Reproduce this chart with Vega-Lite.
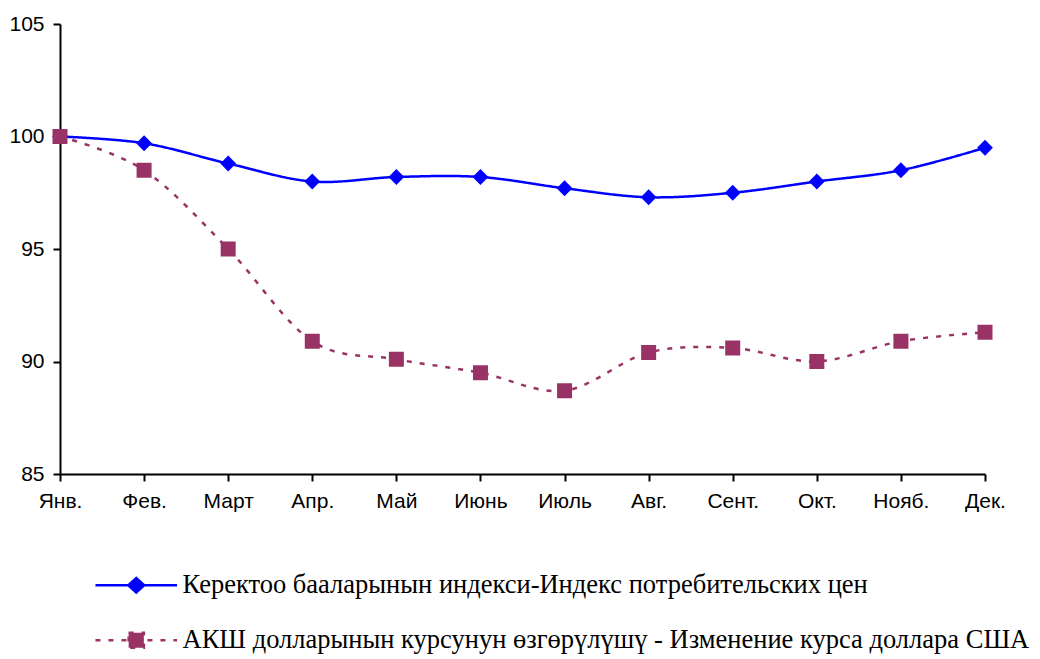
{
  "$schema": "https://vega.github.io/schema/vega-lite/v6.json",
  "width": 925,
  "height": 450,
  "autosize": {"type": "none"},
  "padding": {"left": 60, "top": 24, "right": 55, "bottom": 185},
  "background": "white",
  "config": {
    "view": {"stroke": null},
    "axis": {"grid": false, "domainColor": "black", "tickColor": "black", "domainWidth": 2, "tickWidth": 2, "tickSize": 7, "labelColor": "black", "labelFont": "Liberation Sans", "labelFontSize": 21, "title": null}
  },
  "datasets": {
    "d": [
      {"month": "Янв.", "series": "Керектоо бааларынын индекси-Индекс потребительских цен", "value": 100.0},
      {"month": "Фев.", "series": "Керектоо бааларынын индекси-Индекс потребительских цен", "value": 99.7},
      {"month": "Март", "series": "Керектоо бааларынын индекси-Индекс потребительских цен", "value": 98.8},
      {"month": "Апр.", "series": "Керектоо бааларынын индекси-Индекс потребительских цен", "value": 98.0},
      {"month": "Май", "series": "Керектоо бааларынын индекси-Индекс потребительских цен", "value": 98.2},
      {"month": "Июнь", "series": "Керектоо бааларынын индекси-Индекс потребительских цен", "value": 98.2},
      {"month": "Июль", "series": "Керектоо бааларынын индекси-Индекс потребительских цен", "value": 97.7},
      {"month": "Авг.", "series": "Керектоо бааларынын индекси-Индекс потребительских цен", "value": 97.3},
      {"month": "Сент.", "series": "Керектоо бааларынын индекси-Индекс потребительских цен", "value": 97.5},
      {"month": "Окт.", "series": "Керектоо бааларынын индекси-Индекс потребительских цен", "value": 98.0},
      {"month": "Нояб.", "series": "Керектоо бааларынын индекси-Индекс потребительских цен", "value": 98.5},
      {"month": "Дек.", "series": "Керектоо бааларынын индекси-Индекс потребительских цен", "value": 99.5},
      {"month": "Янв.", "series": "АКШ долларынын курсунун өзгөрүлүшү - Изменение курса доллара США", "value": 100.0},
      {"month": "Фев.", "series": "АКШ долларынын курсунун өзгөрүлүшү - Изменение курса доллара США", "value": 98.5},
      {"month": "Март", "series": "АКШ долларынын курсунун өзгөрүлүшү - Изменение курса доллара США", "value": 95.0},
      {"month": "Апр.", "series": "АКШ долларынын курсунун өзгөрүлүшү - Изменение курса доллара США", "value": 90.9},
      {"month": "Май", "series": "АКШ долларынын курсунун өзгөрүлүшү - Изменение курса доллара США", "value": 90.1},
      {"month": "Июнь", "series": "АКШ долларынын курсунун өзгөрүлүшү - Изменение курса доллара США", "value": 89.5},
      {"month": "Июль", "series": "АКШ долларынын курсунун өзгөрүлүшү - Изменение курса доллара США", "value": 88.7},
      {"month": "Авг.", "series": "АКШ долларынын курсунун өзгөрүлүшү - Изменение курса доллара США", "value": 90.4},
      {"month": "Сент.", "series": "АКШ долларынын курсунун өзгөрүлүшү - Изменение курса доллара США", "value": 90.6},
      {"month": "Окт.", "series": "АКШ долларынын курсунун өзгөрүлүшү - Изменение курса доллара США", "value": 90.0},
      {"month": "Нояб.", "series": "АКШ долларынын курсунун өзгөрүлүшү - Изменение курса доллара США", "value": 90.9},
      {"month": "Дек.", "series": "АКШ долларынын курсунун өзгөрүлүшү - Изменение курса доллара США", "value": 91.3}
    ]
  },
  "data": {"name": "d"},
  "encoding": {
    "x": {"field": "month", "type": "ordinal", "sort": null, "scale": {"type": "point", "padding": 0},
          "axis": {"labelAngle": 0, "labelPadding": 9}},
    "y": {"field": "value", "type": "quantitative", "scale": {"domain": [85, 105], "nice": false, "zero": false},
          "axis": {"values": [85, 90, 95, 100, 105], "labelPadding": 9}},
    "color": {"field": "series", "type": "nominal",
      "scale": {"domain": ["Керектоо бааларынын индекси-Индекс потребительских цен", "АКШ долларынын курсунун өзгөрүлүшү - Изменение курса доллара США"], "range": ["#0000FF", "#993366"]},
      "legend": {
        "title": null, "orient": "none", "legendX": 63, "legendY": 548, "direction": "vertical", "padding": 0,
        "labelFont": "Liberation Serif", "labelFontSize": 26.5, "labelColor": "black", "labelLimit": 1000,
        "symbolSize": 256, "symbolStrokeWidth": 2.5, "labelOffset": 33, "rowPadding": 28,
        "encode": {"symbols": {"update": {
          "fill": {"scale": "color", "field": "value"},
          "stroke": {"scale": "color", "field": "value"},
          "shape": {"signal": "indexof(datum.value, 'АКШ') === 0 ? 'M-5.1,0H5.1M-0.95,-0.95H0.95V0.95H-0.95Z' : 'M-5.1,0H5.1M-1,0L0,-0.9L1,0L0,0.9Z'"},
          "strokeDash": {"signal": "indexof(datum.value, 'АКШ') === 0 ? [5, 8] : [1, 0]"}
        }}}
      }
    }
  },
  "layer": [
    {
      "mark": {"type": "line", "interpolate": "cardinal", "strokeWidth": 2.5},
      "encoding": {
        "strokeDash": {"field": "series", "type": "nominal", "legend": null,
          "scale": {"domain": ["Керектоо бааларынын индекси-Индекс потребительских цен", "АКШ долларынын курсунун өзгөрүлүшү - Изменение курса доллара США"], "range": [[1, 0], [5, 8]]}}
      }
    },
    {
      "transform": [{"filter": "indexof(datum.series, 'АКШ') !== 0"}],
      "mark": {"type": "point", "shape": "diamond", "filled": true, "opacity": 1, "strokeWidth": 0, "size": 250}
    },
    {
      "transform": [{"filter": "indexof(datum.series, 'АКШ') === 0"}],
      "mark": {"type": "point", "shape": "square", "filled": true, "opacity": 1, "strokeWidth": 0, "size": 225}
    }
  ]
}
